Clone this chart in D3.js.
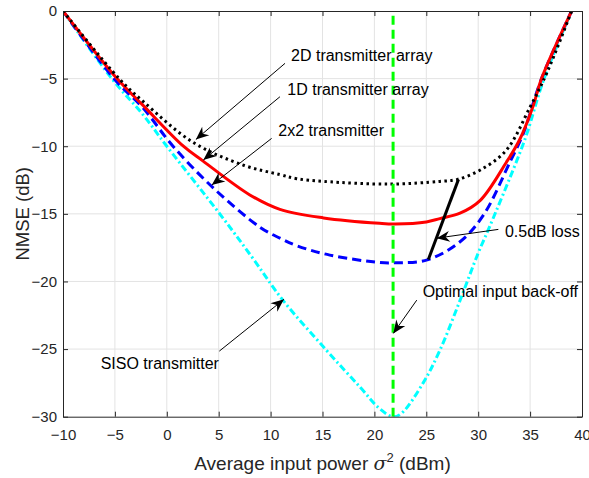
<!DOCTYPE html>
<html>
<head>
  <meta charset="UTF-8">
  <style>
    body { margin: 0; background: #fff; }
    svg { display: block; font-family: "Liberation Sans", Arial, sans-serif; }
  </style>
</head>
<body>
<svg></svg>
<script src="https://d3js.org/d3.v7.min.js"></script>
<script>

let width = 589, height = 478;

// curves, [input power dBm, NMSE dB]
const sisoPts = [[-10,0],[-5.3,-5],[-2.26,-7.7],[0,-10],[5.3,-15.2],[8.3,-18.3],[11.2,-21.4],[15.4,-25.1],
  [18.6,-27.8],[20.5,-29.4],[21.8,-30],[22.6,-29.76],[24.7,-27.5],[26.3,-25.1],[28.25,-21.4],[30,-17.9],
  [31.1,-15.95],[33.7,-11.1],[34.7,-9.05],[36.3,-5.1],[39,0]];
const txPts = [[-10,0],[-5.1,-5],[-2.26,-7.2],[0.6,-10],[4.5,-13.1],[9,-16],[10.9,-16.8],[12.5,-17.35],
  [15.7,-18.05],[20.5,-18.6],[22,-18.62],[25.1,-18.4],[28.25,-17.06],[30.5,-15.1],[33.1,-11.1],
  [34.35,-9.05],[36.1,-5],[39,0]];
const arr1dPts = [[-10,0],[-4.8,-5],[-2.26,-7.0],[1.6,-10],[3.5,-11.1],[8,-13.6],[10.9,-14.67],[15.1,-15.3],
  [20.5,-15.7],[22,-15.75],[25,-15.6],[26.3,-15.35],[28.25,-14.95],[30.2,-14.0],[32.7,-11.2],[34,-9.5],
  [35.3,-7.0],[36.1,-5],[39,0]];
const arr2dPts = [[-10,0],[-4.6,-5],[-2.26,-6.7],[2.5,-9.7],[7.37,-11.4],[10.9,-12.1],[12.5,-12.4],
  [15.1,-12.6],[21.5,-12.8],[26.3,-12.6],[28,-12.45],[30.2,-11.76],[32.7,-10.3],[35,-7.1],[36.6,-4.6],[39,0]];

const optimalX = 21.8;
const lossLine = [[25.2,-18.37],[28.1,-12.45]];

const xTicks = [-10,-5,0,5,10,15,20,25,30,35,40];
const yTicks = [-30,-25,-20,-15,-10,-5,0];

// annotations: label, text anchor point, arrow tail, arrow tip (data units)
const notes = [
  {label: "2D transmitter array", at: [11.97,-3.25], from: [11.39,-3.87], to: [2.8,-9.5]},
  {label: "1D transmitter array", at: [11.61,-5.79], from: [10.9,-6.34], to: [3.52,-11.02]},
  {label: "2x2 transmitter", at: [10.74,-8.8], from: [10.1,-9.42], to: [4.33,-12.87]},
  {label: "0.5dB loss", at: [32.58,-16.27], from: [31.94,-16.15], to: [26.0,-16.8]},
  {label: "Optimal input back-off", at: [24.65,-20.76], from: [24.08,-21.38], to: [21.82,-23.84]},
  {label: "SISO transmitter", at: [-6.37,-26.06], from: [5.06,-25.15], to: [11.29,-21.32]}
];

let svg = d3.select("svg")
    .attr("width", width)
    .attr("height", height)

let x = d3.scaleLinear().domain([-10, 40]).range([63, 582]);
let y = d3.scaleLinear().domain([-30, 0]).range([416.7, 11]);

svg.append("defs").append("marker")
    .attr("id", "head")
    .attr("markerUnits", "userSpaceOnUse")
    .attr("viewBox", "-14 -7 16 14")
    .attr("markerWidth", 16)
    .attr("markerHeight", 14)
    .attr("refX", 0)
    .attr("refY", 0)
    .attr("orient", "auto")
    .append("path")
    .attr("d", "M0,0 L-13,-5.5 L-9,0 L-13,5.5 Z")
    .attr("fill", "black");

svg.append("clipPath").attr("id", "plot")
    .append("rect")
    .attr("x", x(-10)).attr("y", y(0))
    .attr("width", x(40) - x(-10)).attr("height", y(-30) - y(0));

// grid
let grid = svg.append("g").attr("stroke", "#e3e3e3").attr("stroke-width", 1);
grid.selectAll(".gx").data(xTicks.slice(1, -1)).enter().append("line")
    .attr("x1", d => x(d)).attr("x2", d => x(d))
    .attr("y1", y(-30)).attr("y2", y(0));
grid.selectAll(".gy").data(yTicks.slice(1, -1)).enter().append("line")
    .attr("y1", d => y(d)).attr("y2", d => y(d))
    .attr("x1", x(-10)).attr("x2", x(40));

let line = d3.line()
    .x(d => x(d[0]))
    .y(d => y(d[1]))
    .curve(d3.curveCatmullRom.alpha(0.5));

let curves = svg.append("g").attr("clip-path", "url(#plot)").attr("fill", "none");

curves.append("path").datum(sisoPts)
    .attr("d", line).attr("stroke", "#00ffff").attr("stroke-width", 3)
    .attr("stroke-dasharray", "7,3,2,3");
curves.append("path").datum(txPts)
    .attr("d", line).attr("stroke", "#0000ff").attr("stroke-width", 3)
    .attr("stroke-dasharray", "9,5");
curves.append("path").datum(arr1dPts)
    .attr("d", line).attr("stroke", "#ff0000").attr("stroke-width", 3);
curves.append("path").datum(arr2dPts)
    .attr("d", line).attr("stroke", "#000000").attr("stroke-width", 3)
    .attr("stroke-dasharray", "2.5,3.5");

curves.append("line")
    .attr("x1", x(optimalX)).attr("x2", x(optimalX))
    .attr("y1", y(-30)).attr("y2", y(0))
    .attr("stroke", "#00ff00").attr("stroke-width", 3)
    .attr("stroke-dasharray", "9,5");

curves.append("path").datum(lossLine)
    .attr("d", d3.line().x(d => x(d[0])).y(d => y(d[1])))
    .attr("stroke", "black").attr("stroke-width", 3);

// axes, ticks pointing inward like matlab
let axisColor = "#262626";
let axBottom = svg.append("g").attr("transform", `translate(0,${y(-30)})`)
    .call(d3.axisBottom(x).tickValues(xTicks).tickSizeInner(-5).tickSizeOuter(0).tickPadding(13));
let axLeft = svg.append("g").attr("transform", `translate(${x(-10)},0)`)
    .call(d3.axisLeft(y).tickValues(yTicks).tickSizeInner(-5).tickSizeOuter(0).tickPadding(6));
let axTop = svg.append("g").attr("transform", `translate(0,${y(0)})`)
    .call(d3.axisTop(x).tickValues(xTicks).tickSizeInner(-5).tickSizeOuter(0).tickFormat(""));
let axRight = svg.append("g").attr("transform", `translate(${x(40)},0)`)
    .call(d3.axisRight(y).tickValues(yTicks).tickSizeInner(-5).tickSizeOuter(0).tickFormat(""));

[axBottom, axLeft, axTop, axRight].forEach(g => {
    g.attr("font-family", null);
    g.selectAll("path, line").attr("stroke", axisColor);
    g.selectAll("text").attr("fill", axisColor).style("font-size", "15px");
});

svg.append("text")
    .attr("x", (x(-10) + x(40)) / 2)
    .attr("y", 470)
    .attr("text-anchor", "middle")
    .attr("fill", axisColor)
    .style("font-size", "19px")
    .html(`Average input power <tspan font-family="DejaVu Serif" font-style="italic">σ</tspan><tspan dy="-8" font-size="13px">2</tspan><tspan dy="8"> (dBm)</tspan>`);

svg.append("text")
    .attr("transform", `translate(28.5,${(y(0) + y(-30)) / 2}) rotate(-90)`)
    .attr("text-anchor", "middle")
    .attr("fill", axisColor)
    .style("font-size", "18.5px")
    .text("NMSE (dB)");

// annotations
let ann = svg.append("g");
ann.selectAll("line").data(notes).enter().append("line")
    .attr("x1", d => x(d.from[0])).attr("y1", d => y(d.from[1]))
    .attr("x2", d => x(d.to[0])).attr("y2", d => y(d.to[1]))
    .attr("stroke", "black").attr("stroke-width", 1)
    .attr("marker-end", "url(#head)");
ann.selectAll("text").data(notes).enter().append("text")
    .attr("x", d => x(d.at[0])).attr("y", d => y(d.at[1]))
    .attr("dy", "0.35em")
    .style("font-size", "16px")
    .text(d => d.label);

</script>
</body>
</html>
